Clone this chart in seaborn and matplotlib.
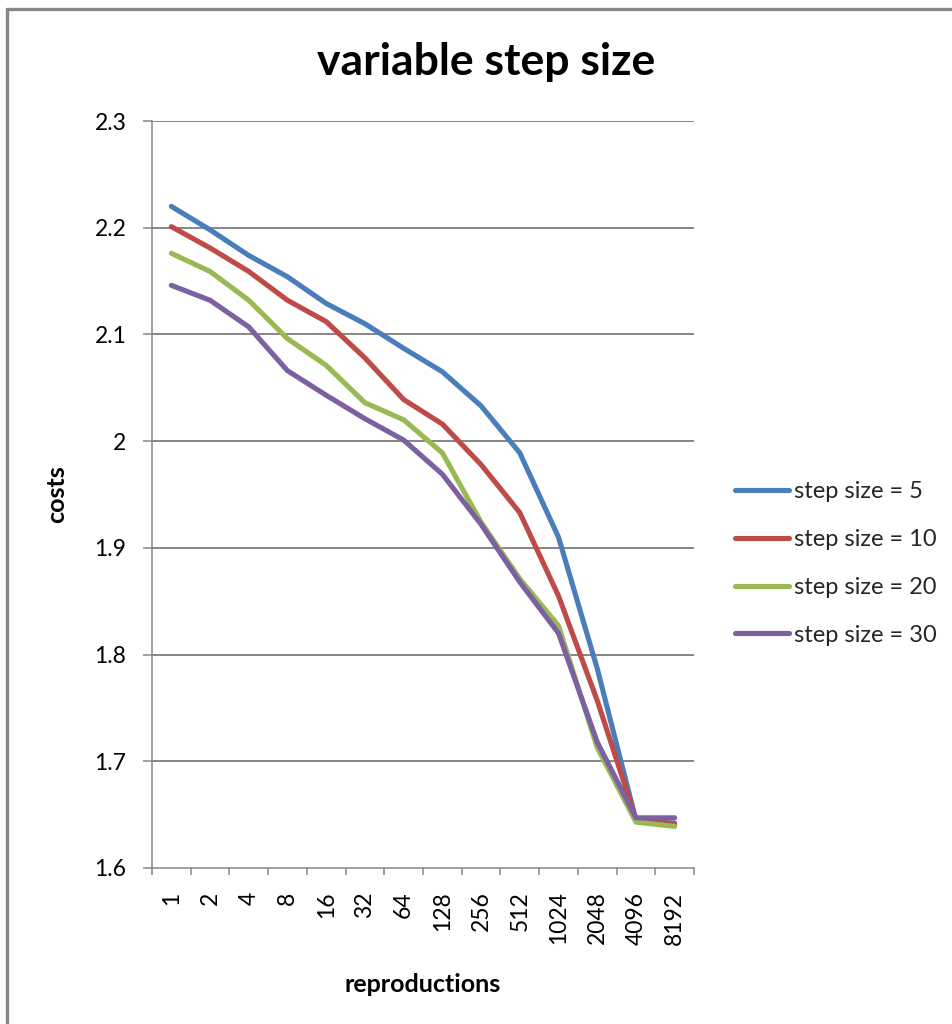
import numpy as np
import pandas as pd
import matplotlib
matplotlib.use("Agg")
import matplotlib.pyplot as plt
import seaborn as sns
from matplotlib.lines import Line2D

# Categories (number of reproductions) and cost series per step size
reproductions = ["1", "2", "4", "8", "16", "32", "64", "128",
                 "256", "512", "1024", "2048", "4096", "8192"]
step_5 = [2.220, 2.198, 2.174, 2.154, 2.129, 2.110, 2.087, 2.065,
          2.033, 1.989, 1.910, 1.787, 1.645, 1.642]
step_10 = [2.201, 2.181, 2.159, 2.132, 2.112, 2.078, 2.039, 2.016,
           1.978, 1.933, 1.855, 1.757, 1.646, 1.641]
step_20 = [2.176, 2.159, 2.132, 2.096, 2.071, 2.036, 2.020, 1.989,
           1.924, 1.871, 1.827, 1.713, 1.643, 1.639]
step_30 = [2.146, 2.132, 2.107, 2.066, 2.043, 2.021, 2.001, 1.969,
           1.922, 1.868, 1.820, 1.718, 1.647, 1.647]
series_names = ["step size = 5", "step size = 10", "step size = 20", "step size = 30"]
series_colors = ["#4a7ebb", "#be4b48", "#98b954", "#7d60a0"]
y_ticks = [1.6, 1.7, 1.8, 1.9, 2.0, 2.1, 2.2, 2.3]

frames = []
for name, vals in zip(series_names, [step_5, step_10, step_20, step_30]):
    frames.append(pd.DataFrame({"reproductions": reproductions,
                                "pos": np.arange(len(reproductions)),
                                "costs": vals, "series": name}))
df = pd.concat(frames, ignore_index=True)

sns.set_theme(style="white")
plt.rcParams["font.family"] = ["Lato", "DejaVu Sans"]

W, H = 953, 1024
fig = plt.figure(figsize=(W / 100, H / 100), dpi=100)
ax_left, ax_right, ax_top, ax_bottom = 152, 694, 121, 868
ax = fig.add_axes([ax_left / W, 1 - ax_bottom / H,
                   (ax_right - ax_left) / W, (ax_bottom - ax_top) / H])

grid_c = "#868686"
tick_fs = 16.5
sns.lineplot(data=df, x="pos", y="costs", hue="series",
             palette=dict(zip(series_names, series_colors)),
             linewidth=3.7, ax=ax, legend=False, sort=False)
for line in ax.get_lines():
    line.set_solid_capstyle("round")
    line.set_solid_joinstyle("round")

ax.set_ylim(1.6, 2.3)
ax.set_xlim(-0.5, len(reproductions) - 0.5)
ax.set_yticks(y_ticks)
ax.set_yticklabels([f"{v:g}" for v in y_ticks])
for v in y_ticks[1:]:
    ax.axhline(v, color=grid_c, linewidth=1.4, zorder=0)

# category boundaries carry the tick marks, centres carry the labels
ax.set_xticks(np.arange(-0.5, len(reproductions), 1.0))
ax.set_xticklabels([])
ax.set_xticks(np.arange(len(reproductions)), minor=True)
ax.set_xticklabels(reproductions, minor=True, rotation=90)
ax.tick_params(axis="x", which="major", direction="out", length=5,
               width=1.1, color=grid_c, bottom=True)
ax.tick_params(axis="x", which="minor", length=0, pad=17,
               labelsize=tick_fs, labelcolor="black")
ax.tick_params(axis="y", direction="out", length=6.5, width=1.1,
               color=grid_c, left=True, pad=12, labelsize=tick_fs,
               labelcolor="black")

for side in ["top", "right"]:
    ax.spines[side].set_visible(False)
for side in ["left", "bottom"]:
    ax.spines[side].set_color(grid_c)
    ax.spines[side].set_linewidth(1.1)

ax.set_xlabel("reproductions", fontsize=18, fontweight="bold",
              color="black", va="center")
ax.set_ylabel("costs", fontsize=18, fontweight="bold",
              color="black", va="center")
ax.xaxis.set_label_coords(0.5, (ax_bottom - 985) / (ax_bottom - ax_top))
ax.yaxis.set_label_coords((57 - ax_left) / (ax_right - ax_left), 0.5)

fig.text(486 / W, 1 - 62 / H, "variable step size", fontsize=32,
         fontweight="bold", ha="center", va="center", color="black")

handles = [Line2D([0], [0], color=c, linewidth=3.7, solid_capstyle="round")
           for c in series_colors]
fig.legend(handles, series_names, loc="upper left",
           bbox_to_anchor=(735 / W, 1 - 481 / H), frameon=False,
           fontsize=17, handlelength=2.3, handletextpad=0.2,
           labelspacing=1.14, borderpad=0, borderaxespad=0)

# chart frame
fig.add_artist(Line2D([7 / W, 7 / W], [0, 1 - 9 / H], color=grid_c,
                      linewidth=2.4, transform=fig.transFigure))
fig.add_artist(Line2D([7 / W, 1], [1 - 9 / H, 1 - 9 / H], color=grid_c,
                      linewidth=2.4, transform=fig.transFigure))

fig.savefig("out.png", dpi=100, facecolor="white")
